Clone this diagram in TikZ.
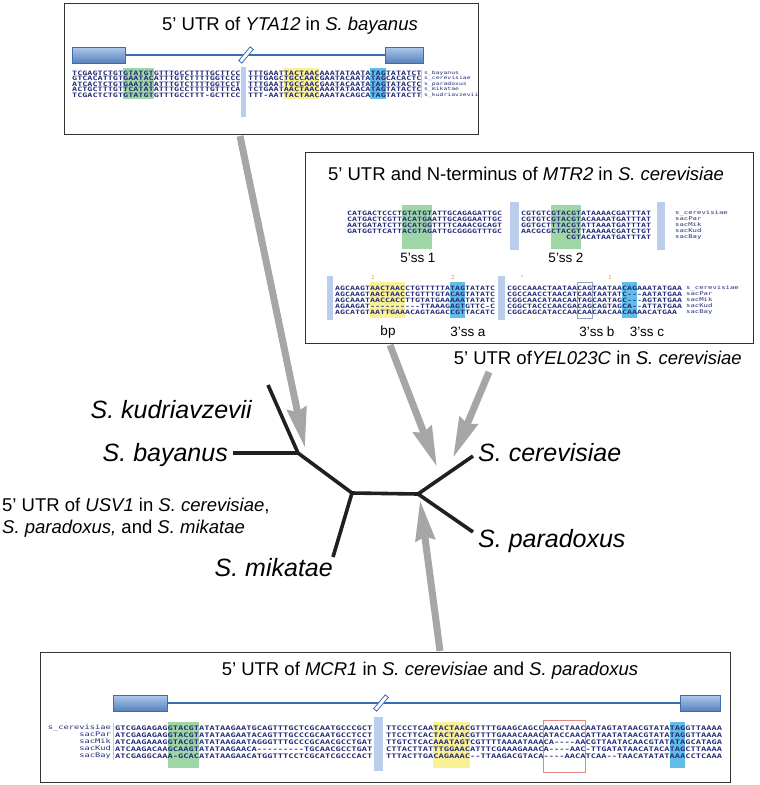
\documentclass[tikz,border=0pt]{standalone}
\usepackage{fontspec}
\setmainfont{Liberation Sans}
\setmonofont[FakeStretch=1.4]{DejaVu Sans Mono}
\usepackage{tikz}
\usetikzlibrary{arrows.meta,positioning}

\definecolor{seqblue}{RGB}{38,44,120}
\definecolor{exonfill}{RGB}{120,166,220}
\definecolor{exonline}{RGB}{58,108,178}
\definecolor{ssgreen}{RGB}{158,214,166}
\definecolor{bpyellow}{RGB}{250,240,150}
\definecolor{agcyan}{RGB}{96,190,232}
\definecolor{barblue}{RGB}{186,206,236}
\definecolor{boxpink}{RGB}{232,132,132}
\definecolor{markorange}{RGB}{238,146,48}
\definecolor{pilgray}{RGB}{166,166,166}
\definecolor{treblack}{RGB}{35,31,32}

\tikzset{
    %Define standard arrow tip
    >={Stealth[length=40pt,width=19pt,inset=3pt]},
    %Define style for panels
    panel/.style={
           rectangle,
           draw=black!80, line width=0.9pt,
           inner sep=0pt,
           anchor=north west},
    tittel/.style={inner sep=0pt, font=\fontsize{18.5}{22}\selectfont},
    art/.style={inner sep=0pt, font=\fontsize{25}{30}\selectfont\itshape},
    merke/.style={inner sep=0pt, font=\fontsize{13.5}{16}\selectfont},
    tall/.style={inner sep=0pt, text=markorange, font=\fontsize{6}{6}\selectfont},
    % sequence blocks
    seqtop/.style={anchor=west, inner sep=0pt, align=left, text=seqblue,
           font=\ttfamily\bfseries\fontsize{6.05}{5.5}\selectfont},
    seqmid/.style={anchor=west, inner sep=0pt, align=left, text=seqblue,
           font=\ttfamily\bfseries\fontsize{5.93}{6}\selectfont},
    seqbot/.style={anchor=west, inner sep=0pt, align=left, text=seqblue,
           font=\ttfamily\bfseries\fontsize{6.23}{7}\selectfont},
    navn/.style={anchor=west, inner sep=0pt, align=left, text=seqblue,
           font=\ttfamily\fontsize{4.6}{5.5}\selectfont},
    % Define exon and intron style
    exon/.style={draw=exonline, line width=0.6pt,
           top color=exonfill!60!white, bottom color=exonline!85!white},
    intron/.style={draw=exonline, line width=1.8pt},
    brudd/.style={draw=exonline, fill=white, line width=0.8pt, inner sep=0pt,
           minimum width=4pt, minimum height=18pt, rotate=-40},
    % Define arrow style
    pil/.style={
           ->,
           draw=pilgray,
           line width=7pt},
    gren/.style={draw=treblack, line width=3.6pt}
}

\begin{document}
\begin{tikzpicture}[x=1pt,y=-1pt]
\useasboundingbox (0,0) rectangle (760,785);

%% top panel: YTA12
\node[panel, minimum width=414pt, minimum height=131pt] (ytaboks) at (64,3) {};
\node[tittel, anchor=base] (ytatittel) at (290,30) {5’ UTR of \textit{YTA12} in \textit{S. bayanus}};
\draw[intron] (125,55) -- (385,55);
\draw[exon] (72,47) rectangle (125,63);
\draw[exon] (385,47) rectangle (423,63);
\node[brudd] (ytabrudd) at (246,55) {};
\fill[barblue] (241,67) rectangle (246,117);
\fill[ssgreen] (123,68) rectangle (153.6,99);
\fill[bpyellow] (283.7,68) rectangle (319.4,99);
\fill[agcyan] (370.4,68) rectangle (385.7,99);
\node[seqtop] (ytaA) at (72,84) {TCGAGTCTGTGTATGTGTTTGCCTTTTGCTTCC\\
GTCACATTGTGAATACATTTGTCTTTTGGTCCC\\
ATCACTCTGTGAATATATTTGTCTTTTGGTCCT\\
ACTGCTTTGTTCATATATTTGCCTTTTGTTTCA\\
TCGACTCTGTGTATGTGTTTGCCTTT-GCTTCC};
\node[seqtop] (ytaB) at (248,84) {TTTGAATTACTAACAAATATAATATAGTATATCT\\
TTTGAGCTGCCAACGAATACAATATAGCACACTC\\
TTTGAATTGCCAACGAATACAATATAGTATACTC\\
TCTGAATAACTAACAAATATAACATAGTATACTC\\
TTT-AATTACTAACAAATACAGCATAGTATACTT};
\draw[boxpink!60, line width=0.4pt] (421,70) -- (421,98);
\node[navn] (ytanavn) at (424,84) {s\_bayanus\\s\_cerevisiae\\s\_paradoxus\\s\_mikatae\\s\_kudriavzevii};

%% middle panel: MTR2
\node[panel, minimum width=448pt, minimum height=191pt] (mtrboks) at (305,152) {};
\node[tittel, anchor=base] (mtrtittel) at (526,180) {5’ UTR and N-terminus of \textit{MTR2} in \textit{S. cerevisiae}};
\fill[barblue] (510,202) rectangle (519,250);
\fill[barblue] (657,202) rectangle (665,250);
\fill[ssgreen] (402,205) rectangle (432,249);
\fill[ssgreen] (551,205) rectangle (581,249);
\node[seqmid] (mtrA) at (347,222) {CATGACTCCCTGTATGTATTGCAGAGATTGC\\
CATGACTCGTTACATGAATTGCAGGAATTGC\\
AATGATATCTTGCATGGTTTTCAAACGCAGT\\
GATGGTTCATTACGTAGATTGCGGGGTTTGC};
\node[seqmid] (mtrB) at (521,225) {CGTGTCGTACGTATAAAACGATTTAT\\
CGTGTCGTACGTACAAAATGATTTAT\\
GGTGCTTTACGTATTAAATGATTTAT\\
AACGCGCTACGTTAAAAACGATCTGT\\
\phantom{AAAAAAAAA}CGTACATAATGATTTAT};
\node[navn, font=\ttfamily\fontsize{5.2}{6}\selectfont] (mtrnavnA) at (675,225) {s\_cerevisiae\\sacPar\\sacMik\\sacKud\\sacBay};
\node[merke] (ss1) at (418,258) {5’ss 1};
\node[merke] (ss2) at (566,258) {5’ss 2};
% lower block
\fill[barblue] (327,276) rectangle (333,320);
\fill[barblue] (498,276) rectangle (505,320);
\fill[bpyellow] (370,282) rectangle (405,318);
\fill[agcyan] (450,282) rectangle (465,318);
\fill[agcyan] (622,282) rectangle (637,318);
\draw[barblue!80!black, line width=0.5pt] (577,282) rectangle (592,318);
\node[tall] (t1) at (373,277) {1};
\node[tall] (t2) at (453,277) {2};
\node[tall] (t3) at (522,277) {*};
\node[tall] (t4) at (610,277) {1};
\node[seqmid] (mtrC) at (335,300) {AGCAAGTAACTAACCTGTTTTTATAGTATATC\\
AGCAAGTAACTAACCTGTTTGTACAGTATATC\\
AGCAAATAACCACCTTGTATGAAAAATATATC\\
AGAAGAT----------TTAAAGAGTGTTC-C\\
AGCATGTAATTGAAACAGTAGACCGTTACATC};
\node[seqmid] (mtrD) at (507,300) {CGCCAAACTAATAACAGTAATAACAGAAATATGAA\\
CGCCAACCTAACATCAATAATATC---AATATGAA\\
CGGCAACATAACAATAGCAATAGC---AGTATGAA\\
CGGCTACCCAACGACAGCAGTAGCA--ATTATGAA\\
CGGCAGCATACCAACAACAACAACAAAACATGAA};
\node[navn, font=\ttfamily\fontsize{5.2}{6}\selectfont] (mtrnavnB) at (686,300) {s\_cerevisiae\\sacPar\\sacMik\\sacKud\\sacBay};
\node[merke] (bp) at (388,332) {bp};
\node[merke] (ssa) at (468,332) {3’ss a};
\node[merke] (ssb) at (597,332) {3’ss b};
\node[merke] (ssc) at (647,332) {3’ss c};

%% bottom panel: MCR1
\node[panel, minimum width=690pt, minimum height=130pt] (mcrboks) at (40,652) {};
\node[tittel, anchor=base] (mcrtittel) at (430,675) {5’ UTR of \textit{MCR1} in \textit{S. cerevisiae} and \textit{S. paradoxus}};
\draw[intron] (167,703) -- (680,703);
\draw[exon] (113,695) rectangle (167,711);
\draw[exon] (680,695) rectangle (720,711);
\node[brudd] (mcrbrudd) at (381,703) {};
\fill[barblue] (374,717) rectangle (383,771);
\fill[ssgreen] (167.5,722) rectangle (199,768);
\fill[bpyellow] (433,722) rectangle (470,768);
\fill[agcyan] (669.5,722) rectangle (685.3,768);
\draw[boxpink, line width=1pt] (543.5,720) rectangle (585.5,772);
\draw[boxpink!60, line width=0.4pt] (113.5,723) -- (113.5,760);
\node[seqbot, anchor=east, align=right, font=\ttfamily\fontsize{6.23}{7}\selectfont] (mcrnavn) at (111,742) {s\_cerevisiae\\sacPar\\sacMik\\sacKud\\sacBay};
\node[seqbot] (mcrA) at (115,742) {GTCGAGAGAGGTACGTATATAAGAATGCAGTTTGCTCGCAATGCCCGCT\\
ATCGAGAGAGGTACGTATATAAGAATACAGTTTGCCCGCAATGCCTCCT\\
ATCAAGAAAGGTACGTATATAAGAATAGGGTTTGCCCGCAACGCCTGAT\\
ATCAAGACAAGCAAGTATATAAGAACA---------TGCAACGCCTGAT\\
ATCGAGGCAAA-GCACATATAAGAACATGGTTTCCTCGCATCGCCCACT};
\node[seqbot] (mcrB) at (386,742) {TTCCCTCAATACTAACGTTTTGAAGCAGCCAAACTAACAATAGTATAACGTATATAGGTTAAAA\\
TTCCTTCACTACTAACGTTTTGAAACAAACATACCAACATTAATATAACGTATATAGGTTAAAA\\
TTGTCTCACAAATAGTCGTTTTAAAATAAACA----AACGTTAATACAACGTATATAGCATAGA\\
CTTACTTATTTGGAACATTTCGAAAGAAACA----AAC-TTGATATAACATACATAGCTTAAAA\\
TTTACTTGACAGAAAC--TTAAGACGTACA----AACATCAA--TAACATATATAAACCTCAAA};

%% annotations without panels
\node[tittel, anchor=north west, align=left] (usv) at (2,498) {5’ UTR of \textit{USV1} in \textit{S. cerevisiae},\\\textit{S. paradoxus,} and \textit{S. mikatae}};
\node[tittel, anchor=base east] (yel) at (742,364) {5’ UTR of\textit{YEL023C} in \textit{S. cerevisiae}};

%% tree
\coordinate (kud) at (268,385);
\coordinate (bay) at (233,453);
\coordinate (mik) at (333,557);
\coordinate (cer) at (473,456);
\coordinate (par) at (473,532);
\coordinate (j1) at (298,453);
\coordinate (j2) at (352,493);
\coordinate (j3) at (418,494);
\node[art, anchor=base east] (kudnavn) at (252,418) {S. kudriavzevii};
\node[art, anchor=base east] (baynavn) at (228,461) {S. bayanus};
\node[art, anchor=base east] (miknavn) at (333,576) {S. mikatae};
\node[art, anchor=base west] (cernavn) at (478,461) {S. cerevisiae};
\node[art, anchor=base west] (parnavn) at (478,547) {S. paradoxus};

%% arrows into the tree
\coordinate (ytafra) at (240,136);
\coordinate (ytatil) at (305,448);
\coordinate (mtrfra) at (390,345);
\coordinate (mtrtil) at (437,467);
\coordinate (yelfra) at (489,372);
\coordinate (yeltil) at (453,458);
\coordinate (mcrfra) at (440,651);
\coordinate (mcrtil) at (420,500);
\draw[pil] (ytafra) -- (ytatil);
\draw[pil] (mtrfra) -- (mtrtil);
\draw[pil] (yelfra) -- (yeltil);
\draw[pil] (mcrfra) -- (mcrtil);

\draw[gren] (kud) -- (j1) -- (j2) -- (j3) -- (cer);
\draw[gren] (bay) -- (j1);
\draw[gren] (j2) -- (mik);
\draw[gren] (j3) -- (par);
\end{tikzpicture}
\end{document}
